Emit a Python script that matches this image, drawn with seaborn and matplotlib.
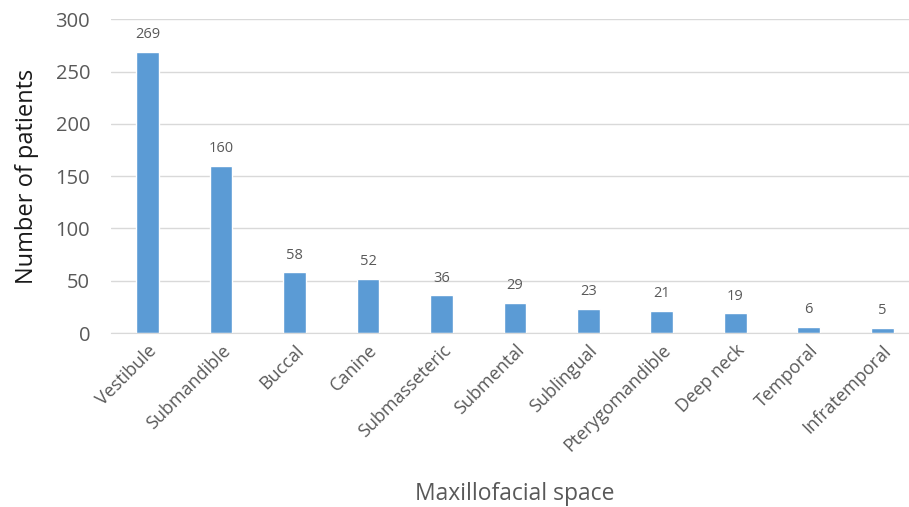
import matplotlib
matplotlib.use('Agg')
import matplotlib.pyplot as plt
import pandas as pd
import seaborn as sns

# data
spaces = ['Vestibule', 'Submandible', 'Buccal', 'Canine', 'Submasseteric', 'Submental',
          'Sublingual', 'Pterygomandible', 'Deep neck', 'Temporal', 'Infratemporal']
patients = [269, 160, 58, 52, 36, 29, 23, 21, 19, 6, 5]

df = pd.DataFrame({'space': spaces, 'patients': patients})

sns.set_style('white')
plt.rcParams['font.family'] = ['Open Sans', 'DejaVu Sans']
text_color = '#595959'

fig = plt.figure(figsize=(9.09, 5.07), dpi=100)
ax = fig.add_axes([0.122, 0.343, 0.889, 0.619])

sns.barplot(data=df, x='space', y='patients', color='#5B9BD5', width=0.31,
            saturation=1, ax=ax, zorder=3)

ax.set_ylim(0, 300)
ax.set_yticks(range(0, 301, 50))
ax.grid(axis='y', color='#d9d9d9', lw=1, zorder=0)
for s in ['top', 'right', 'left']:
    ax.spines[s].set_visible(False)
ax.spines['bottom'].set_color('#d9d9d9')
ax.spines['bottom'].set_zorder(4)

ax.tick_params(axis='both', length=0, colors=text_color)
ax.tick_params(axis='y', labelsize=14.5, pad=15)
ax.tick_params(axis='x', labelsize=13, pad=6)
for lab in ax.get_xticklabels():
    lab.set_rotation(45)
    lab.set_ha('right')
    lab.set_rotation_mode('anchor')

for i, v in enumerate(patients):
    ax.annotate(str(v), (i, v), xytext=(0, 7), textcoords='offset points',
                ha='center', va='bottom', fontsize=10.5, color=text_color)

ax.set_xlabel('Maxillofacial space', fontsize=16.5, color=text_color, labelpad=19)
ax.set_ylabel('Number of patients', fontsize=17, color='#1a1a1a', labelpad=12)

fig.savefig('out.png', dpi=100)
